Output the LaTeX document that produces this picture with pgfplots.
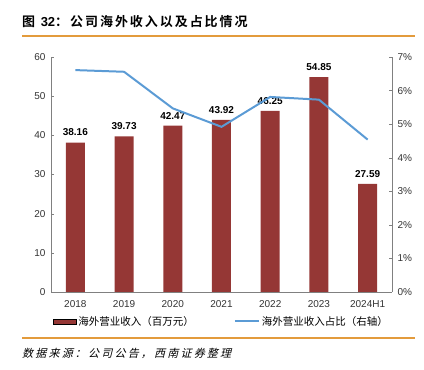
\documentclass[border=0pt]{standalone}
\usepackage{fontspec}
\setmainfont{Liberation Sans}
\newfontfamily\cjk{Noto Sans CJK SC}
\newfontfamily\cjkb{Noto Sans CJK SC Bold}[LetterSpace=15]
\newfontfamily\cjkit{Noto Sans CJK SC}[FakeSlant=0.25,LetterSpace=20]
\usepackage{pgfplots}
\pgfplotsset{compat=1.18}
\definecolor{barred}{HTML}{953735}
\definecolor{lineblue}{HTML}{5B9BD5}
\definecolor{orangeline}{HTML}{E39B3C}
\definecolor{axgray}{HTML}{808080}
\begin{document}
\begin{tikzpicture}[x=1pt,y=1pt]
\path (0,0) rectangle (424,370);
\node[anchor=west,inner sep=0] at (22,348) {\fontsize{13}{15}\selectfont{\cjkb 图} \textbf{32}\cjkb：公司海外收入以及占比情况};
\node[anchor=west,inner sep=0] at (22,17) {\fontsize{11}{13}\selectfont\cjkit 数据来源：公司公告，西南证券整理};
\begin{scope}[shift={(51,78)}]
\begin{axis}[
  scale only axis, width=341pt, height=235pt,
  xmin=-0.5, xmax=6.5, ymin=0, ymax=60,
  ytick={0,10,...,60},
  xtick={0,...,6},
  xticklabels={2018,2019,2020,2021,2022,2023,2024H1},
  extra x ticks={0.5,1.5,...,5.5},
  extra x tick labels={},
  extra x tick style={major tick length=3pt, tick style={axgray}},
  axis x line*=bottom, axis y line*=left,
  axis line style={axgray, line width=0.6pt},
  major x tick style={draw=none},
  y tick style={axgray},
  tick align=inside, major tick length=3pt,
  tick label style={font=\fontsize{10}{12}\selectfont, text=black!80},
  yticklabel style={xshift=-2pt},
  xticklabel style={yshift=-2pt},
  /pgf/number format/assume math mode=true,
  ybar, bar width=19pt,
  nodes near coords,
  every node near coord/.append style={font=\fontsize{10}{12}\selectfont\bfseries, text=black, /pgf/number format/fixed, /pgf/number format/precision=2, /pgf/number format/fixed zerofill, yshift=3pt},
  legend style={at={(0.5,-0.085)}, anchor=north, draw=none, legend columns=2,
    font=\fontsize{10.5}{12}\selectfont\cjk, /tikz/every even column/.append style={column sep=38pt}},
  legend image code/.code={\draw[#1] (0pt,-2.5pt) rectangle (23pt,2.5pt);},
]
\addplot[fill=barred, draw=none] coordinates {(0,38.16) (1,39.73) (2,42.47) (3,43.92) (4,46.25) (5,54.85) (6,27.59)};
\addlegendentry{海外营业收入（百万元）}
\addlegendimage{legend image code/.code={\draw[lineblue, line width=2pt] (0pt,0pt) -- (24pt,0pt);}}
\addlegendentry{海外营业收入占比（右轴）}
\end{axis}
\begin{axis}[
  scale only axis, width=341pt, height=235pt,
  xmin=-0.5, xmax=6.5, ymin=0, ymax=7,
  ytick={0,1,...,7},
  yticklabel={\pgfmathprintnumber{\tick}\%},
  axis y line*=right, axis x line=none,
  axis line style={axgray, line width=0.6pt},
  y tick style={axgray},
  tick align=inside, major tick length=3pt,
  tick label style={font=\fontsize{10}{12}\selectfont, text=black!80},
  yticklabel style={xshift=2pt},
  /pgf/number format/assume math mode=true,
]
\addplot[lineblue, line width=2pt, mark=none] coordinates {(0,6.61) (1,6.56) (2,5.47) (3,4.92) (4,5.81) (5,5.73) (6,4.54)};
\end{axis}
\end{scope}
\draw[draw=orangeline,line width=1.3pt] (22,334) -- (415,334);
\draw[draw=orangeline,line width=1.3pt] (22,32) -- (415,32);
\end{tikzpicture}
\end{document}
